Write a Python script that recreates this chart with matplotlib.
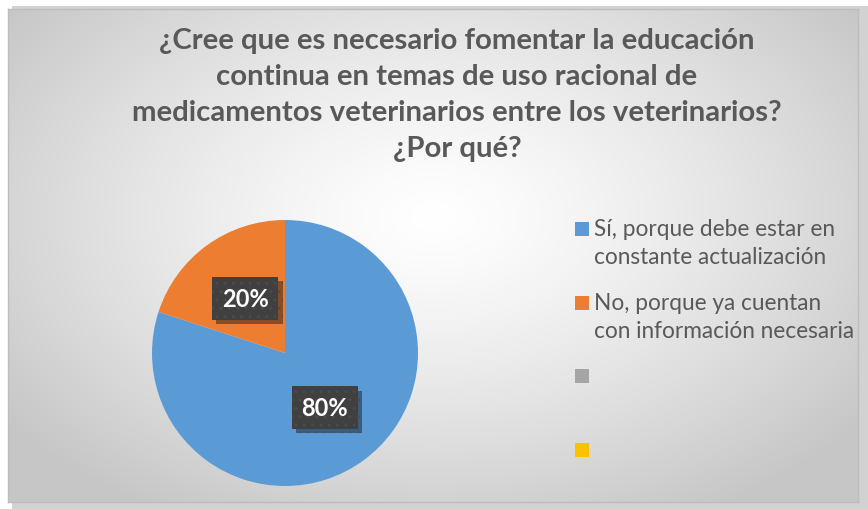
import matplotlib.pyplot as plt
import numpy as np
from matplotlib.patches import Rectangle
import matplotlib.patheffects as pe

title = ("¿Cree que es necesario fomentar la educación\n"
         "continua en temas de uso racional de\n"
         "medicamentos veterinarios entre los veterinarios?\n"
         "¿Por qué?")
categories = ["Sí, porque debe estar en\nconstante actualización",
              "No, porque ya cuentan\ncon información necesaria",
              "", ""]
values = [80, 20]
colors = ["#5B9BD5", "#ED7D31", "#A5A5A5", "#FFC000"]

W, H = 868, 510
plt.rcParams["hatch.linewidth"] = 0.8
fig = plt.figure(figsize=(W / 100, H / 100), dpi=100)
fig.patch.set_facecolor("white")

# shadow of the chart frame (right / bottom)
fig.add_artist(Rectangle((12 / W, 0), 856 / W, 503 / H, transform=fig.transFigure,
                         facecolor="#d2d2d2", edgecolor="none", zorder=0))

# chart area with radial gradient
bg = fig.add_axes([8 / W, 7 / H, 850 / W, 493 / H])
ny, nx = 300, 500
yy, xx = np.mgrid[0:ny, 0:nx]
cx, cy = nx * 0.5, ny * 0.42
d = np.sqrt(((xx - cx) / (nx * 0.5)) ** 2 + ((yy - cy) / (ny * 0.55)) ** 2)
t = np.clip(d / 1.25, 0, 1) ** 1.3
g = 1.0 - t * (1.0 - 0.78)
img = np.dstack([g, g, g])
bg.imshow(img, aspect="auto", extent=[0, 1, 0, 1], origin="upper")
bg.set_xticks([])
bg.set_yticks([])
for s in bg.spines.values():
    s.set_color("#bdbdbd")
    s.set_linewidth(1)

fig.text(457 / W, 1 - 95 / H, title, ha="center", va="center", fontsize=21.2,
         fontweight="bold", color="#595959", family="Lato", linespacing=1.47)

R = 133
cxp, cyp = 285, 354
ax = fig.add_axes([(cxp - R) / W, (H - cyp - R) / H, 2 * R / W, 2 * R / H])
wedges, texts, autotexts = ax.pie(values, colors=colors[:2], startangle=90,
                                  counterclock=False, radius=1,
                                  autopct="%1.0f%%", pctdistance=0.51,
                                  wedgeprops=dict(linewidth=0))
ax.set_xlim(-1, 1)
ax.set_ylim(-1, 1)
ax.axis("off")
for at in autotexts:
    at.set_color("white")
    at.set_fontweight("bold")
    at.set_fontsize(17)
    at.set_family("Lato")
    at.set_bbox(dict(boxstyle="square,pad=0.42", facecolor="#404040",
                     edgecolor="#4c4c4c", linewidth=0, hatch=".."))
    at.get_bbox_patch().set_path_effects(
        [pe.SimplePatchShadow(offset=(3, -3), alpha=0.45), pe.Normal()])

# legend (square beside the first line of each entry)
leg_y = [230, 304, 377, 451]
for lab, c, yc in zip(categories, colors, leg_y):
    fig.add_artist(Rectangle((575 / W, 1 - (yc + 7) / H), 14 / W, 14 / H,
                             transform=fig.transFigure, facecolor=c,
                             edgecolor="none"))
    for i, line in enumerate(lab.split("\n")):
        if line:
            fig.text(594 / W, 1 - (yc + i * 27) / H, line, ha="left",
                     va="center", fontsize=16.3, family="Lato",
                     color="#595959")

fig.savefig("out.png", dpi=100)
